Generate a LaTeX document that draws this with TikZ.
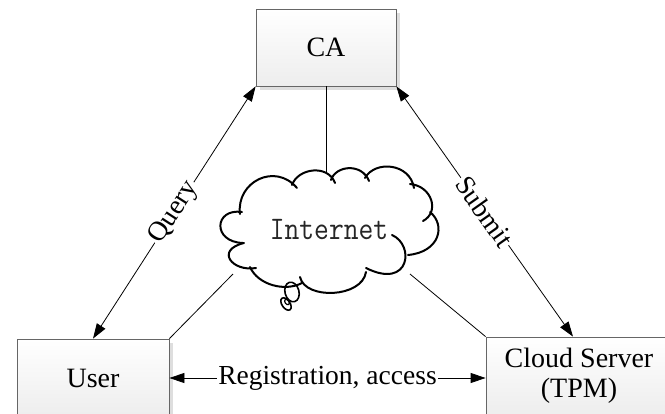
\documentclass[tikz,border=0pt]{standalone}
\usepackage{fontspec}
\setmainfont{Liberation Serif}
\usetikzlibrary{arrows.meta,shadows,calc}
\tikzset{
  box/.style={draw=black!60, line width=0.8pt, rectangle, top color=white, bottom color=black!7,
    drop shadow={shadow xshift=3.5pt, shadow yshift=-3.5pt, fill=black!13, opacity=1},
    font=\fontsize{28}{30}\selectfont, align=center, inner sep=0pt},
  conn/.style={line width=0.8pt, black},
  dbl/.style={conn, {Triangle[length=15pt,width=10pt]}-{Triangle[length=15pt,width=10pt]}},
  lbl/.style={fill=white, inner sep=1.5pt, font=\fontsize{27.5}{30}\selectfont},
  cloudline/.style={line width=2pt, black, line cap=round},
}
\begin{document}
\begin{tikzpicture}[x=1pt,y=-1pt]
\clip (0,0) rectangle (665,413);
\fill[white] (0,0) rectangle (665,413);
% boxes
\node[box, minimum width=140pt, minimum height=77pt] (ca) at (326,47.5) {CA};
\node[box, minimum width=152pt, minimum height=78pt] (user) at (93,378) {User};
\node[box, minimum width=186pt, minimum height=78pt] (cs) at (579,376) {Cloud Server\\(TPM)};
% cloud
\draw[cloudline] (240,214) .. controls (236,182) and (275,162) .. (297,188);
\draw[cloudline] (292,185) .. controls (298,168) and (328,164) .. (335,183);
\draw[cloudline] (331,180) .. controls (336,165) and (362,163) .. (369,181);
\draw[cloudline] (365,178) .. controls (375,160) and (410,163) .. (414,188);
\draw[cloudline] (410,184) .. controls (432,186) and (440,212) .. (423,221);
\draw[cloudline] (430,212) .. controls (446,225) and (440,252) .. (408,255);
\draw[cloudline] (392,235) .. controls (415,245) and (410,290) .. (366,268);
\draw[cloudline] (366,272) .. controls (362,298) and (305,300) .. (300,277);
\draw[cloudline] (302,283) .. controls (285,292) and (258,285) .. (250,267);
\draw[cloudline] (256,268) .. controls (232,272) and (215,250) .. (244,243);
\draw[cloudline] (243,243) .. controls (212,242) and (214,208) .. (242,212);
% thought bubbles
\draw[line width=1.6pt, rotate around={15:(292,292)}] (292,292) ellipse [x radius=7pt, y radius=10pt];
\draw[line width=1.6pt, rotate around={35:(286,304)}] (286,304) ellipse [x radius=4pt, y radius=7pt];
\draw[line width=1.2pt, rotate around={35:(287,302)}] (287,302) ellipse [x radius=2pt, y radius=3pt];
\node[font=\ttfamily\fontsize{33}{34}\selectfont, inner sep=0pt, xscale=0.87, text=black!85] (inet) at (329,230) {Internet};
\coordinate (ctop) at (326,172);
\coordinate (cleft) at (233,274);
\coordinate (cright) at (410,274);
% plain links
\draw[conn] (ca.south) -- (ctop);
\draw[conn] (user.north east) -- (cleft);
\draw[conn] (cs.north west) -- (cright);
% arrows
\draw[dbl] (user.north) -- node[lbl, sloped] {Query} (ca.south west);
\coordinate (csin) at ([xshift=-6pt]cs.north);
\draw[dbl] (ca.south east) -- node[lbl, sloped] {Submit} (csin);
\coordinate (csw) at (user.east -| cs.west);
\draw[dbl] (user.east) -- node[lbl] {Registration, access} (csw);
\end{tikzpicture}
\end{document}
